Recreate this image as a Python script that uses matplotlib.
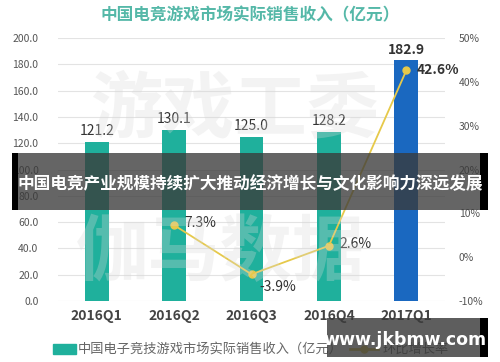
import numpy as np
import matplotlib.pyplot as plt
from matplotlib.patches import Rectangle
from matplotlib.lines import Line2D

plt.rcParams['font.family'] = ['Noto Sans CJK SC', 'DejaVu Sans']

quarters = ['2016Q1', '2016Q2', '2016Q3', '2016Q4', '2017Q1']
revenue = [121.2, 130.1, 125.0, 128.2, 182.9]
growth_q = ['2016Q2', '2016Q3', '2016Q4', '2017Q1']
growth = [7.3, -3.9, 2.6, 42.6]
left_ticks = [0, 20, 40, 60, 80, 100, 120, 140, 160, 180, 200]
right_ticks = [-10, 0, 10, 20, 30, 40, 50]

teal = '#1fb09c'
blue = '#1a68c0'
yellow = '#e6c94a'
grid_c = '#e3e3e3'

fig = plt.figure(figsize=(5, 3.62), dpi=100)
ax = fig.add_axes([0.116, 0.1685, 0.774, 0.7265])
x = np.arange(len(quarters))
colors = [teal] * 4 + [blue]
ax.bar(x, revenue, width=0.31, color=colors, zorder=2)
ax.set_xlim(-0.5, 4.5)
ax.set_ylim(0, 200)
ax.set_yticks(left_ticks)
ax.set_yticklabels([f'{v:.1f}' for v in left_ticks], fontsize=7.5, color='#555555')
ax.set_xticks(x)
ax.set_xticklabels(quarters, fontsize=10, fontweight='bold', color='#444444')
ax.grid(axis='y', color=grid_c, linewidth=0.8, zorder=0)
for s in ax.spines.values():
    s.set_visible(False)
ax.tick_params(length=0, pad=6)
ax.tick_params(axis='y', pad=14)
for xi, v in zip(x, revenue):
    ax.text(xi, v + 3, f'{v:.1f}', ha='center', va='bottom', fontsize=10,
            color='#333333', fontweight='bold' if xi == 4 else 'normal')

ax2 = ax.twinx()
ax2.set_ylim(-10, 50)
ax2.set_yticks(right_ticks)
ax2.set_yticklabels([f'{v}%' for v in right_ticks], fontsize=7.5, color='#555555')
ax2.tick_params(length=0, pad=10)
for s in ax2.spines.values():
    s.set_visible(False)
gx = [quarters.index(q) for q in growth_q]
ax2.plot(gx, growth, color=yellow, linewidth=1.3, marker='o', markersize=5,
         markerfacecolor=yellow, markeredgecolor=yellow, zorder=3)
offsets = [(0.13, 0.5), (0.1, -3.0), (0.13, 0.5), (0.13, 0.0)]
for xi, v, (dx, dy) in zip(gx, growth, offsets):
    ax2.text(xi + dx, v + dy, f'{v}%', ha='left', va='center', fontsize=10,
             color='#333333', fontweight='bold' if xi == 4 else 'normal')

fig.text(0.5, 0.958, '中国电竞游戏市场实际销售收入（亿元）', ha='center', va='center',
         fontsize=12, color='#55b8a8', fontweight='bold')

# watermark
fig.text(0.47, 0.695, '游戏工委', ha='center', va='center', fontsize=52,
         color='#d8d8d8', alpha=0.3, fontweight='bold', zorder=5)
fig.text(0.44, 0.30, '伽马数据', ha='center', va='center', fontsize=52,
         color='#d8d8d8', alpha=0.3, fontweight='bold', zorder=5)

# legend
fig.patches.append(Rectangle((0.106, 0.022), 0.046, 0.028, transform=fig.transFigure,
                             color=teal, zorder=6))
fig.text(0.155, 0.036, '中国电子竞技游戏市场实际销售收入（亿元）', ha='left', va='center',
         fontsize=9.5, color='#666666')
fig.lines.append(Line2D([0.70, 0.755], [0.036, 0.036], transform=fig.transFigure,
                        color=yellow, linewidth=2))
fig.lines.append(Line2D([0.727], [0.036], transform=fig.transFigure,
                        color=yellow, marker='o', markersize=5, linestyle='none'))
fig.text(0.765, 0.036, '环比增长率', ha='left', va='center', fontsize=9.5, color='#666666')

# banner
fig.patches.append(Rectangle((0.024, 0.42), 0.952, 0.157, transform=fig.transFigure,
                             facecolor='#3a3a3a', alpha=0.78, zorder=8))
fig.patches.append(Rectangle((0.024, 0.42), 0.012, 0.157, transform=fig.transFigure,
                             facecolor='black', zorder=8))
fig.patches.append(Rectangle((0.96, 0.42), 0.016, 0.157, transform=fig.transFigure,
                             facecolor='black', zorder=8))
fig.text(0.5, 0.49, '中国电竞产业规模持续扩大推动经济增长与文化影响力深远发展', ha='center',
         va='center', fontsize=12, color='white', fontweight='bold', zorder=9)

# site box
fig.patches.append(Rectangle((0.654, 0.014), 0.306, 0.108, transform=fig.transFigure,
                             facecolor='#3a3a3a', alpha=0.82, zorder=8))
fig.patches.append(Rectangle((0.96, 0.014), 0.016, 0.108, transform=fig.transFigure,
                             facecolor='black', zorder=8))
fig.text(0.81, 0.062, 'www.jkbmw.com', ha='center', va='center', fontsize=12.5,
         color='white', fontweight='bold', family='DejaVu Sans', zorder=9)

fig.savefig('out.png', dpi=100)
